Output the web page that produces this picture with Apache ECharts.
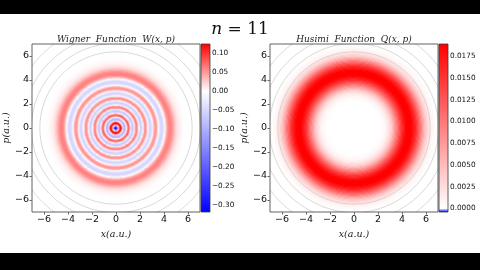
<!DOCTYPE html>
<html><head><meta charset="utf-8">
<script src="https://cdn.jsdelivr.net/npm/echarts@6/dist/echarts.min.js"></script>
<style>html,body{margin:0;padding:0;background:#000;}#c{width:480px;height:270px;}</style>
</head><body><div id="c"></div>
<script>
// ---------------- data ----------------
const figureTitle = 'n = 11';
const panelTitles = ['Wigner  Function  W(x, p)', 'Husimi  Function  Q(x, p)'];
const xAxisName = 'x(a.u.)';
const yAxisName = 'p(a.u.)';
const axisRange = [-7, 7];
const axisTicks = [-6, -4, -2, 0, 2, 4, 6];

// radial profile of W (sampled every 0.05 a.u. from r = 0)
const wignerRadialStep = 0.05;
const wignerProfile = [
  -0.318, -0.300, -0.249, -0.174, -0.094, -0.001, 0.067, 0.113, 0.128, 0.118,
  0.082, 0.033, -0.021, -0.061, -0.089, -0.096, -0.082, -0.048, -0.005, 0.032,
  0.062, 0.078, 0.077, 0.059, 0.029, -0.007, -0.038, -0.061, -0.0705, -0.065,
  -0.047, -0.018, 0.013, 0.039, 0.057, 0.064, 0.058, 0.040, 0.014, -0.013,
  -0.036, -0.053, -0.060, -0.055, -0.041, -0.018, 0.006, 0.028, 0.044, 0.054,
  0.056, 0.048, 0.033, 0.013, -0.009, -0.028, -0.043, -0.052, -0.054, -0.047,
  -0.034, -0.016, 0.004, 0.021, 0.036, 0.047, 0.052, 0.052, 0.046, 0.035,
  0.020, 0.002, -0.013, -0.027, -0.039, -0.048, -0.053, -0.054, -0.050, -0.042,
  -0.027, -0.014, -0.001, 0.012, 0.024, 0.035, 0.044, 0.051, 0.057, 0.060,
  0.062, 0.062, 0.060, 0.057, 0.053, 0.048, 0.043, 0.038, 0.033, 0.028,
  0.024, 0.020, 0.017, 0.014, 0.012, 0.010, 0.0085, 0.007, 0.0058, 0.0047,
  0.0038, 0.003, 0.0024, 0.0018, 0.0014, 0.001, 0.0007, 0.0005, 0.0003, 0.0002,
  0.0001
];
// radial profile of Q (sampled every 0.1 a.u. from r = 0)
const husimiRadialStep = 0.1;
const husimiProfile = [
  0, 0, 0, 0, 0, 0, 0, 0, 0, 0,
  0, 0, 0, 0, 0, 0, 0, 0, 0, 0,
  0.00002, 0.00004, 0.00008, 0.00015, 0.00026, 0.00042, 0.00065, 0.00097, 0.0014, 0.0019,
  0.0026, 0.0034, 0.0044, 0.0055, 0.0068, 0.0082, 0.0096, 0.0110, 0.0124, 0.0137,
  0.0150, 0.0161, 0.0171, 0.0179, 0.0185, 0.0189, 0.0190, 0.0189, 0.0185, 0.0179,
  0.0171, 0.0161, 0.0149, 0.0136, 0.0122, 0.0107, 0.0092, 0.0078, 0.0064, 0.0052,
  0.0041, 0.0032, 0.0024, 0.0018, 0.0013, 0.0009, 0.0006, 0.0004, 0.00027, 0.00018,
  0.00012, 0.00008, 0.00005
];
const wignerRange = [-0.318, 0.124];
const husimiRange = [-0.0004, 0.0189];
const wignerColorbarTicks = [0.10, 0.05, 0.00, -0.05, -0.10, -0.15, -0.20, -0.25, -0.30];
const husimiColorbarTicks = [0.0175, 0.0150, 0.0125, 0.0100, 0.0075, 0.0050, 0.0025, 0.0000];
const guideCircleRadii = [6.35, 7.05, 7.8, 8.7];

// ---------------- helpers ----------------
const N = 168;
const cell = (axisRange[1] - axisRange[0]) / N;
const cats = Array.from({length: N}, (_, i) => (axisRange[0] + (i + 0.5) * cell).toFixed(4));

function buildField(profile, step) {
  const out = [];
  for (let i = 0; i < N; i++) {
    const x = axisRange[0] + (i + 0.5) * cell;
    for (let j = 0; j < N; j++) {
      const y = axisRange[0] + (j + 0.5) * cell;
      const k = Math.round(Math.hypot(x, y) / step);
      out.push([i, j, k < profile.length ? profile[k] : 0]);
    }
  }
  return out;
}
function bwr(t) {
  t = Math.max(0, Math.min(1, t));
  let r, g, b;
  if (t < 0.5) { const s = t / 0.5; r = s; g = s; b = 1; }
  else { const s = (t - 0.5) / 0.5; r = 1; g = 1 - s; b = 1 - s; }
  return 'rgb(' + Math.round(r * 255) + ',' + Math.round(g * 255) + ',' + Math.round(b * 255) + ')';
}
function twoSlope(v, vmin, vmax) {
  return v < 0 ? 0.5 * (v - vmin) / (0 - vmin) : 0.5 + 0.5 * v / vmax;
}
// evenly spaced stops, spacing chosen so that value 0 sits exactly on a stop (white)
function colorList(range, d) {
  const n = Math.round((range[1] - range[0]) / d) + 1;
  const arr = [];
  for (let k = 0; k < n; k++) {
    const v = range[0] + (range[1] - range[0]) * k / (n - 1);
    arr.push(bwr(twoSlope(Math.abs(v) < 1e-12 ? 0 : v, range[0], range[1])));
  }
  return arr;
}
const wColors = colorList(wignerRange, 0.002);
const qColors = colorList(husimiRange, 0.0001);

const minus = s => s.replace('-', '\u2212');
const tickFmt = v => minus(String(v));
const sansFont = 'DejaVu Sans';
const serifFont = 'DejaVu Serif';
const spine = '#3a3a3a';

function plotGrid(left) {
  return {left: left, top: 44, width: 168, height: 168, show: true, z: 5,
          borderColor: spine, borderWidth: 0.8, backgroundColor: 'transparent', outerBoundsMode: 'none'};
}
function cbGrid(left) {
  return {left: left, top: 44, width: 9, height: 168, show: true, z: 5,
          borderColor: spine, borderWidth: 0.8, backgroundColor: 'transparent', outerBoundsMode: 'none'};
}
function valueX(g) {
  return {type: 'value', gridIndex: g, min: axisRange[0], max: axisRange[1], position: 'bottom',
    axisLine: {show: false}, splitLine: {show: false},
    axisTick: {show: true, length: 2.5, customValues: axisTicks, lineStyle: {color: spine, width: 0.8}},
    axisLabel: {customValues: axisTicks, formatter: tickFmt, fontSize: 9.5, color: '#111', margin: 3, fontFamily: sansFont},
    name: xAxisName, nameLocation: 'middle', nameGap: 15,
    nameTextStyle: {fontFamily: serifFont, fontStyle: 'italic', fontSize: 9.5, color: '#222'}};
}
function valueY(g, gap) {
  return {type: 'value', gridIndex: g, min: axisRange[0], max: axisRange[1], position: 'left',
    axisLine: {show: false}, splitLine: {show: false},
    axisTick: {show: true, length: 2.5, customValues: axisTicks, lineStyle: {color: spine, width: 0.8}},
    axisLabel: {customValues: axisTicks, formatter: tickFmt, fontSize: 9.5, color: '#111', margin: 3, fontFamily: sansFont},
    name: yAxisName, nameLocation: 'middle', nameGap: gap, nameRotate: 90,
    nameTextStyle: {fontFamily: serifFont, fontStyle: 'italic', fontSize: 9.5, color: '#222'}};
}
function catAxis(g) {
  return {type: 'category', gridIndex: g, data: cats, show: false, boundaryGap: true};
}
function cbX(g) { return {type: 'value', gridIndex: g, min: 0, max: 1, show: false}; }
function cbY(g, range, ticks, digits) {
  return {type: 'value', gridIndex: g, min: range[0], max: range[1], position: 'right',
    axisLine: {show: false}, splitLine: {show: false},
    axisTick: {show: true, length: 2, customValues: ticks, lineStyle: {color: spine, width: 0.8}},
    axisLabel: {customValues: ticks, formatter: v => minus(v.toFixed(digits)), fontSize: 7.3, color: '#111', margin: 2, fontFamily: sansFont}};
}
function colorbarSeries(xi, yi, range, colors) {
  return {type: 'custom', xAxisIndex: xi, yAxisIndex: yi, silent: true, animation: false, z: 2,
    data: [[0, range[0]]],
    renderItem: (params, api) => {
      const p0 = api.coord([0, range[1]]);
      const p1 = api.coord([1, range[0]]);
      const stops = colors.slice().reverse().map((c, k) => ({offset: k / (colors.length - 1), color: c}));
      return {type: 'rect', shape: {x: p0[0], y: p0[1], width: p1[0] - p0[0], height: p1[1] - p0[1]},
        style: {fill: {type: 'linear', x: 0, y: 0, x2: 0, y2: 1, colorStops: stops}}};
    }};
}
function circleSeries(xi, yi) {
  return {type: 'custom', xAxisIndex: xi, yAxisIndex: yi, silent: true, animation: false, clip: true, z: 3,
    data: guideCircleRadii.map(r => [0, 0, r]), encode: {x: 0, y: 1},
    renderItem: (params, api) => {
      const c = api.coord([api.value(0), api.value(1)]);
      const s = api.size([api.value(2), api.value(2)]);
      return {type: 'circle', shape: {cx: c[0], cy: c[1], r: s[0]},
        style: {fill: 'none', stroke: '#c8c8c8', lineWidth: 0.7}};
    }};
}

const chart = echarts.init(document.getElementById('c'), null, {renderer: 'canvas'});
chart.setOption({
  animation: false,
  backgroundColor: '#000',
  graphic: {elements: [
    {type: 'rect', z: -100, silent: true, shape: {x: 0, y: 14, width: 480, height: 239}, style: {fill: '#fff'}},
    {type: 'text', x: 240, y: 30, silent: true, style: {text: '{i|n} = 11', rich: {i: {fontStyle: 'italic', fontFamily: serifFont, fontSize: 17, fill: '#111'}},
      fontFamily: serifFont, fontSize: 17, fill: '#111', align: 'center', verticalAlign: 'middle'}},
    {type: 'text', x: 116, y: 40, silent: true, style: {text: panelTitles[0], fontFamily: serifFont, fontStyle: 'italic', fontSize: 9, fill: '#222', align: 'center', verticalAlign: 'middle'}},
    {type: 'text', x: 354, y: 40, silent: true, style: {text: panelTitles[1], fontFamily: serifFont, fontStyle: 'italic', fontSize: 9, fill: '#222', align: 'center', verticalAlign: 'middle'}}
  ]},
  grid: [plotGrid(32), plotGrid(270), cbGrid(201), cbGrid(439)],
  xAxis: [catAxis(0), valueX(0), catAxis(1), valueX(1), cbX(2), cbX(3)],
  yAxis: [catAxis(0), valueY(0, 20), catAxis(1), valueY(1, 18),
          cbY(2, wignerRange, wignerColorbarTicks, 2), cbY(3, husimiRange, husimiColorbarTicks, 4)],
  visualMap: [
    {type: 'continuous', show: false, seriesIndex: 0, dimension: 2, min: wignerRange[0], max: wignerRange[1], inRange: {color: wColors}},
    {type: 'continuous', show: false, seriesIndex: 1, dimension: 2, min: husimiRange[0], max: husimiRange[1], inRange: {color: qColors}}
  ],
  series: [
    {type: 'heatmap', xAxisIndex: 0, yAxisIndex: 0, data: buildField(wignerProfile, wignerRadialStep), progressive: 0, silent: true, emphasis: {disabled: true}, itemStyle: {borderWidth: 0}},
    {type: 'heatmap', xAxisIndex: 2, yAxisIndex: 2, data: buildField(husimiProfile, husimiRadialStep), progressive: 0, silent: true, emphasis: {disabled: true}, itemStyle: {borderWidth: 0}},
    circleSeries(1, 1),
    circleSeries(3, 3),
    colorbarSeries(4, 4, wignerRange, wColors),
    colorbarSeries(5, 5, husimiRange, qColors)
  ]
});
</script></body></html>
